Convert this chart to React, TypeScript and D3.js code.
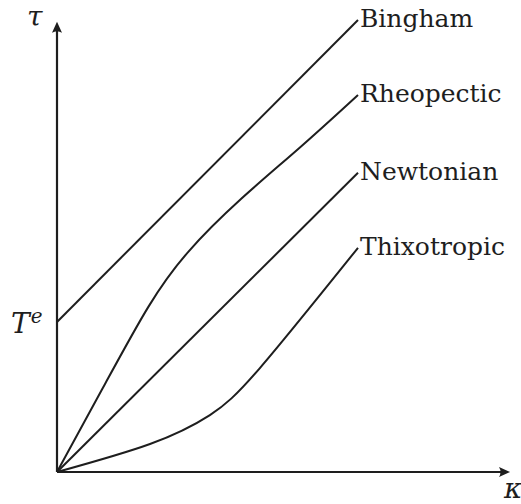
import React from 'react';
import * as d3 from 'd3';

const W = 521;
const H = 504;

// Flow curves: shear stress τ against rate κ (arbitrary units, 0–10)
const binghamKappa = [0, 10];
const binghamTau = [3.32, 10];

const newtonianKappa = [0, 10];
const newtonianTau = [0, 6.62];

const rheopecticKappa = [0, 1.6, 3.09, 4.25, 6.08, 8.1, 10];
const rheopecticTau = [0, 1.95, 3.78, 4.85, 6.05, 7.18, 8.34];

const thixotropicKappa = [0, 3.09, 5.08, 6.74, 10];
const thixotropicTau = [0, 0.62, 1.26, 2.3, 4.96];

const curveLabels = ['Bingham', 'Rheopectic', 'Newtonian', 'Thixotropic'];
const yieldStressLabel = 'T';
const yieldStressSup = 'e';
const xAxisLabel = 'κ';
const yAxisLabel = 'τ';

const kappaAxisEnd = 15.05;
const tauAxisEnd = 9.96;

export default function App() {
  const x = d3.scaleLinear().domain([0, 10]).range([57, 358]);
  const y = d3.scaleLinear().domain([0, 10]).range([472, 20]);

  const zip = (ks: number[], ts: number[]) => ks.map((k, i) => [k, ts[i]] as [number, number]);

  const straight = d3
    .line<[number, number]>()
    .x((d) => x(d[0]))
    .y((d) => y(d[1]));
  const natural = d3
    .line<[number, number]>()
    .x((d) => x(d[0]))
    .y((d) => y(d[1]))
    .curve(d3.curveNatural);
  const basis = d3
    .line<[number, number]>()
    .x((d) => x(d[0]))
    .y((d) => y(d[1]))
    .curve(d3.curveBasis);

  const series = [
    { pts: zip(binghamKappa, binghamTau), gen: straight },
    { pts: zip(rheopecticKappa, rheopecticTau), gen: basis },
    { pts: zip(newtonianKappa, newtonianTau), gen: straight },
    { pts: zip(thixotropicKappa, thixotropicTau), gen: natural },
  ];

  const ink = '#1e1e1e';
  const x0 = x(0);
  const y0 = y(0);
  const xEnd = x(kappaAxisEnd);
  const yEnd = y(tauAxisEnd);
  const arrow = 'M0,0 L-11,-5 Q-8,0 -11,5 Z';

  return (
    <svg
      width={W}
      height={H}
      style={{ position: 'absolute', left: 0, top: 0, background: '#fff' }}
      fontFamily="'DejaVu Serif', serif"
    >
      {/* axes */}
      <line x1={x0} y1={y0} x2={xEnd - 4} y2={y0} stroke={ink} strokeWidth={2.2} />
      <line x1={x0} y1={y0} x2={x0} y2={yEnd + 4} stroke={ink} strokeWidth={2.2} />
      <path d={arrow} transform={`translate(${xEnd},${y0})`} fill={ink} />
      <path d={arrow} transform={`translate(${x0},${yEnd}) rotate(-90)`} fill={ink} />

      {/* curves */}
      {series.map((s, i) => (
        <path key={i} d={s.gen(s.pts) || ''} fill="none" stroke={ink} strokeWidth={2} strokeLinejoin="round" />
      ))}

      {/* curve labels at the curve ends */}
      {series.map((s, i) => {
        const last = s.pts[s.pts.length - 1];
        return (
          <text key={i} x={x(last[0]) + 2} y={y(last[1]) + 7} fontSize={25} fill={ink}>
            {curveLabels[i]}
          </text>
        );
      })}

      {/* axis labels */}
      <text x={27} y={26} fontSize={28} fontStyle="italic" fill={ink}>
        {yAxisLabel}
      </text>
      <text x={504} y={498} fontSize={28} fontStyle="italic" fill={ink}>
        {xAxisLabel}
      </text>
      <text x={11} y={y(binghamTau[0]) + 11} fontSize={28} fontStyle="italic" fill={ink}>
        {yieldStressLabel}
        <tspan dx={1} dy={-10} fontSize={20}>
          {yieldStressSup}
        </tspan>
      </text>
    </svg>
  );
}
